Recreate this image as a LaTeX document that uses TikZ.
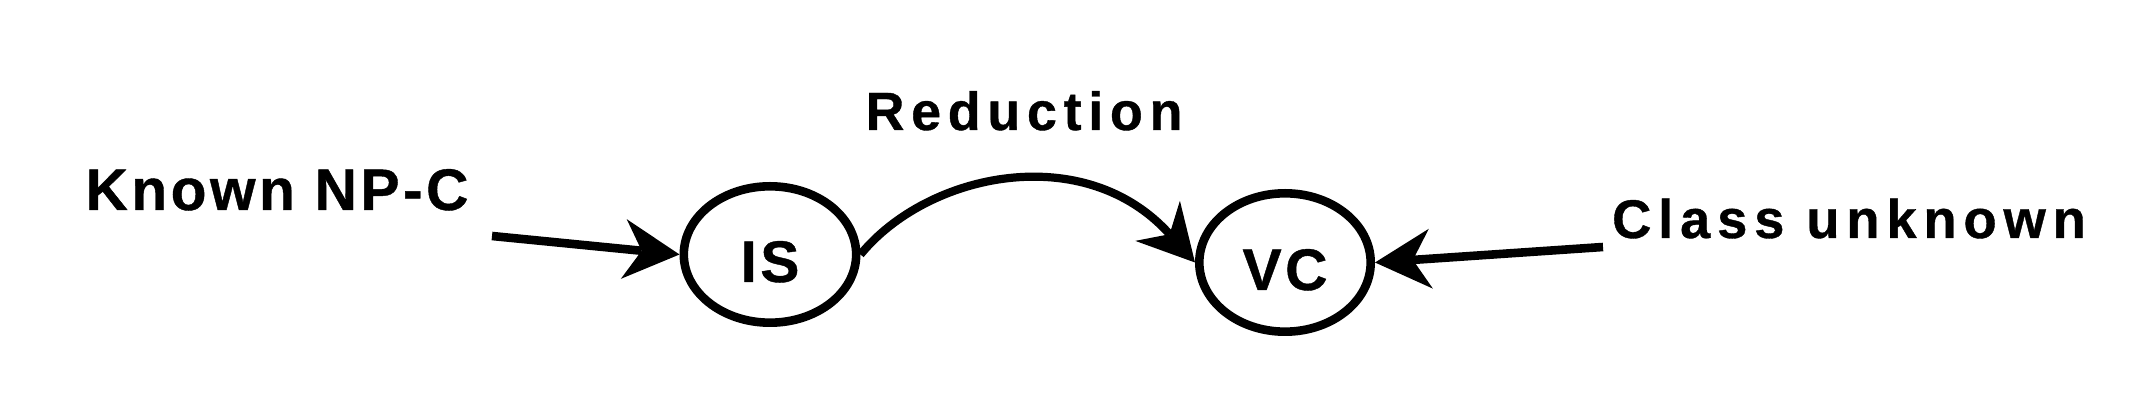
\documentclass[tikz,border=0pt]{standalone}
\usepackage{fontspec}
\setmainfont{Liberation Sans}
\newfontfamily\wideA{Liberation Sans}[LetterSpace=12.5,FakeBold=0.7]
\newfontfamily\wideB{Liberation Sans}[LetterSpace=6,FakeBold=0.7]
\usetikzlibrary{arrows.meta,shapes.geometric}
\begin{document}
\begin{tikzpicture}[x=0.5pt,y=-0.5pt,
  bubble/.style={ellipse,draw,line width=4.3pt,inner sep=0pt,
    text height=27.5pt,text depth=0pt,
    font=\wideB\bfseries\fontsize{29.3pt}{30pt}\selectfont},
  lbl/.style={inner sep=0pt,anchor=base},
  bigtip/.style={-{Stealth[length=28pt,width=30pt,inset=9pt,line width=0pt]}}]
\fill[white] (0,0) rectangle (2138,416);
\path[use as bounding box] (0,0) rectangle (2138,416);

\node[bubble,minimum width=86.2pt,minimum height=68.2pt] (IS) at (770,254.5) {IS};
\node[bubble,minimum width=85.7pt,minimum height=69.2pt] (VC) at (1285,262.5) {VC};

\node[lbl,font=\wideB\bfseries\fontsize{29.3pt}{32pt}\selectfont] (known) at (277,210) {Known NP-C};
\node[lbl,font=\wideA\bfseries\fontsize{26.9pt}{30pt}\selectfont] (red) at (1024,130) {Reduction};
\node[lbl,font=\wideA\bfseries\fontsize{27.2pt}{30pt}\selectfont] (cls) at (1849,238) {Class unknown};

\coordinate (a) at (492,236);
\coordinate (b) at (1603,247);

\draw[bigtip,line width=4.3pt] (a) -- (IS.west);
\draw[bigtip,line width=4.3pt] (b) -- (VC.east);
\draw[bigtip,line width=4.1pt] (IS.east) .. controls (928,172) and (1085,140) .. (VC.west);
\end{tikzpicture}
\end{document}
